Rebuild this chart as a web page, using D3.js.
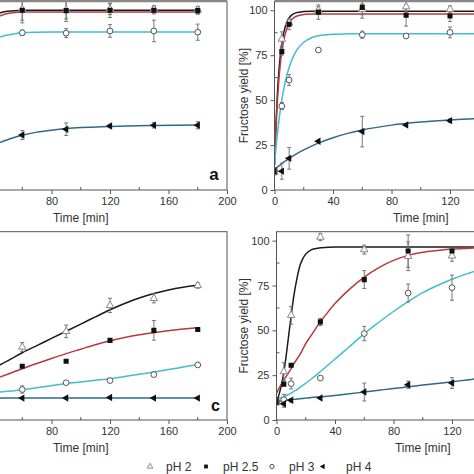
<!DOCTYPE html>
<html><head><meta charset="utf-8">
<script src="https://cdn.jsdelivr.net/npm/d3@7"></script>
<style>body{margin:0;background:#fff}svg{display:block}text{font-family:"Liberation Sans",Arial,sans-serif}</style>
</head><body><svg id="chart" width="474" height="474"></svg>
<script>
// ---------- DATA ----------
const seriesNames = ["pH 2", "pH 2.5", "pH 3", "pH 4"];
const xTicks = [0, 40, 80, 120, 160, 200];
const yTicks = [0, 25, 50, 75, 100];
const axisTitleX = "Time [min]";
const axisTitleY = "Fructose yield [%]";

// panel a
const timesA = [60, 90, 120, 150, 180];
const a_pH2 = [100.5, 100.2, 100.6, 100.6, 100.2];
const a_pH2_err = [6, 5, 3, 2, 2];
const a_pH25 = [100, 99.8, 100, 100, 99.8];
const a_pH25_err = [7, 6, 4, 2, 2];
const a_pH3 = [87.5, 87.3, 88.5, 88.5, 87.8];
const a_pH3_err = [1.5, 2.5, 3.5, 6, 4.5];
const a_pH4 = [30.6, 33.8, 35.6, 36, 36];
const a_pH4_err = [2.5, 3.5, 1, 1.5, 2];
const fitTimesA = [40, 45, 50, 55, 60, 70, 80, 90, 120, 150, 180];
const fitA_pH2 = [97.5, 98.6, 99.4, 99.8, 100, 100, 100, 100, 100, 100, 100];
const fitA_pH25 = [95.5, 97, 98.2, 98.8, 99, 99, 99, 99, 99, 99, 99];
const fitA_pH3 = [84, 85.2, 86.3, 87, 87.5, 87.8, 87.9, 87.9, 87.9, 87.9, 87.9];
const fitA_pH4 = [24.5, 26.5, 28, 29.4, 30.5, 32.2, 33.3, 34.2, 35.4, 35.9, 36.1];

// panel b
const timesB = [0, 5, 10, 30, 60, 90, 120];
const b_pH2 = [10, 84, 93, 100, 100.5, 102, 100.5];
const b_pH2_err = [0, 4, 2, 2, 3, 3, 2];
const b_pH25 = [11, 77, 92.2, 99, 101.6, 97.2, 96.8];
const b_pH25_err = [0, 2, 3, 4, 6, 6, 3];
const b_pH3 = [11, 46.7, 61.2, 77.9, 86.4, 85.7, 87.7];
const b_pH3_err = [0, 2, 3, 0, 2, 0, 3];
const b_pH4 = [10.4, 10.5, 17.6, 27.1, 32.5, 36.2, 38.6];
const b_pH4_err = [2, 4.5, 6, 0, 8.5, 0, 1];
const fitTimesB = [0,1,2,3,4,5,6,7,8,10,12,15,20,25,30,40,50,60,80,100,120,140,160,180];
const fitB_pH2 = [14,37,54,66,75,81.6,86.4,89.8,92.5,95.8,97.5,98.7,99.3,99.5,99.5,99.5,99.5,99.5,99.5,99.5,99.5,99.5,99.5,99.5];
const fitB_pH25 = [14,34.3,49.7,61.4,70.3,77,82,85.8,88.8,92.7,95,96.7,97.7,97.9,98,98,98,98,98,98,98,98,98,98];
const fitB_pH3 = [14,23.3,31.4,38.5,44.6,50,54.7,58.8,62.4,68.2,72.7,77.5,82.2,84.6,85.8,86.7,86.9,87,87,87,87,87,87,87];
const fitB_pH4 = [11.5,12.2,12.8,13.4,14,14.7,15.3,15.9,16.4,17.6,18.6,20.1,22.3,24.3,26.1,29.1,31.5,33.4,36.1,37.8,39,39.8,40.2,40.5];

// panel c
const timesC = [60, 90, 120, 150, 180];
const c_pH2 = [40.7, 49.4, 63.9, 67.8, 75];
const c_pH2_err = [2.5, 3.5, 4, 2.5, 1.5];
const c_pH25 = [30, 32.8, 44.4, 50, 50.5];
const c_pH25_err = [0, 0, 0, 5.5, 0];
const c_pH3 = [17, 20.8, 22, 25.3, 30.7];
const c_pH3_err = [2, 0, 0, 0.8, 0];
const c_pH4 = [12.2, 12.3, 12.6, 12.2, 12.2];
const c_pH4_err = [0, 0, 0, 0, 0];
const fitTimesC = [40, 50, 60, 70, 80, 90, 100, 110, 120, 130, 140, 150, 160, 170, 180];
const fitC_pH2 = [28.8, 33, 37.5, 41.5, 45.5, 49.5, 53.5, 57.5, 61.5, 65, 68, 70.5, 72.5, 74, 75.1];
const fitC_pH25 = [22.5, 25.5, 28.6, 31.5, 34.3, 37, 39.5, 42, 44.2, 46, 47.5, 48.7, 49.8, 50.7, 51.5];
const fitC_pH3 = [15.2, 16, 16.9, 18, 19.1, 20.3, 21.2, 22.1, 23, 24.2, 25.5, 26.8, 28.1, 29.5, 30.9];
const fitC_pH4 = [12.3, 12.3, 12.3, 12.3, 12.3, 12.3, 12.3, 12.3, 12.3, 12.3, 12.3, 12.3, 12.3, 12.3, 12.3];

// panel d
const timesD = [0, 5, 10, 30, 60, 90, 120];
const d_pH2 = [10, 27, 58.4, 102, 95, 91.3, 91.5];
const d_pH2_err = [0, 5, 5, 2, 2.5, 8, 3];
const d_pH25 = [10, 20, 30.5, 54.7, 78.3, 94.2, 94.2];
const d_pH25_err = [0, 1, 1, 2, 5, 9, 1];
const d_pH3 = [10, 11.3, 20.3, 23.4, 48.2, 70.8, 73.8];
const d_pH3_err = [0, 3, 3, 0, 4, 5, 7];
const d_pH4 = [10, 9.1, 11, 12.3, 15.6, 19.7, 20.6];
const d_pH4_err = [0, 2, 1, 0, 5, 2, 3];
const fitTimesD = [0,2,4,6,8,10,12,14,16,18,20,24,28,35,40,50,60,70,80,90,100,110,120,130,140,160,180];
const fitD_pH2 = [10,15,22,32,45,58,70,79,86,90,92.5,95,95.8,96.3,96.5,96.5,96.5,96.5,96.5,96.5,96.5,96.5,96.5,96.5,96.5,96.5,96.5];
const fitD_pH25 = [15,18,21,23.5,26,28.6,31.5,34,36.5,39.5,42.6,47.5,52.5,60,64.9,73,79.7,85,89,91.8,93.5,94.5,95.3,95.7,96,96.3,96.5];
const fitD_pH3 = [11,11.8,12.6,13.4,14.2,15,16,17,18.2,19.3,20.5,23,25.6,30.5,34,41,48.2,54.5,60.5,66,71,75,78.5,81.5,84,88,90.5];
const fitD_pH4 = [10.5,10.6,10.8,11,11.2,11.4,11.5,11.7,11.9,12,12.2,12.5,12.8,13.3,13.7,14.6,15.6,16.6,17.6,18.5,19.5,20.4,21.3,22.3,23.3,25,26.5];

// ---------- STYLE ----------
const lineColors = ["#1a1a1a", "#b8393c", "#3dbfcf", "#2d6a86"];
const markerKind = ["tri", "square", "circle", "ltri"];
const W = 474;

const panels = [
  {label: "a", xr: [-65.5, 227], yr: [190, 1.3], times: timesA,
   vals: [a_pH2, a_pH25, a_pH3, a_pH4], errs: [a_pH2_err, a_pH25_err, a_pH3_err, a_pH4_err],
   fitT: fitTimesA, fits: [fitA_pH2, fitA_pH25, fitA_pH3, fitA_pH4],
   titleY: 222, letter: [214, 180, 17]},
  {label: "b", xr: [274.5, 567], yr: [190, 1.3], times: timesB,
   vals: [b_pH2, b_pH25, b_pH3, b_pH4], errs: [b_pH2_err, b_pH25_err, b_pH3_err, b_pH4_err],
   fitT: fitTimesB, fits: [fitB_pH2, fitB_pH25, fitB_pH3, fitB_pH4],
   titleY: 222, ytitleX: 248, letter: [554, 180, 17]},
  {label: "c", xr: [-65.5, 227], yr: [420, 231.7], times: timesC,
   vals: [c_pH2, c_pH25, c_pH3, c_pH4], errs: [c_pH2_err, c_pH25_err, c_pH3_err, c_pH4_err],
   fitT: fitTimesC, fits: [fitC_pH2, fitC_pH25, fitC_pH3, fitC_pH4],
   titleY: 452, letter: [215.5, 411, 16]},
  {label: "d", xr: [276.5, 569], yr: [420, 231.7], times: timesD,
   vals: [d_pH2, d_pH25, d_pH3, d_pH4], errs: [d_pH2_err, d_pH25_err, d_pH3_err, d_pH4_err],
   fitT: fitTimesD, fits: [fitD_pH2, fitD_pH25, fitD_pH3, fitD_pH4],
   titleY: 452, ytitleX: 248, letter: [556, 411, 16]}
];

const svg = d3.select("#chart");
const defs = svg.append("defs");

function drawMarker(g, kind, x, y, scale) {
  const s = scale || 1;
  if (kind === "tri") {
    g.append("path").attr("d", d3.symbol(d3.symbolTriangle, 24 * s * s)())
      .attr("transform", `translate(${x},${y})`)
      .attr("fill", "#fff").attr("stroke", "#888").attr("stroke-width", 1);
  } else if (kind === "square") {
    g.append("path").attr("d", d3.symbol(d3.symbolSquare, 26 * s * s)())
      .attr("transform", `translate(${x},${y})`).attr("fill", "#111");
  } else if (kind === "circle") {
    g.append("path").attr("d", d3.symbol(d3.symbolCircle, 26 * s * s)())
      .attr("transform", `translate(${x},${y})`)
      .attr("fill", "#fff").attr("stroke", "#555").attr("stroke-width", 1);
  } else {
    g.append("path").attr("d", d3.symbol(d3.symbolTriangle, 24 * s * s)())
      .attr("transform", `translate(${x},${y}) rotate(-90)`).attr("fill", "#111");
  }
}

panels.forEach((p, pi) => {
  const x = d3.scaleLinear().domain([0, 200]).range(p.xr);
  const y = d3.scaleLinear().domain([0, 105]).range(p.yr);
  const g = svg.append("g");
  const clipId = "clip" + pi;
  defs.append("clipPath").attr("id", clipId).append("rect")
    .attr("x", p.xr[0]).attr("y", p.yr[1]).attr("width", p.xr[1] - p.xr[0]).attr("height", p.yr[0] - p.yr[1]);

  const onScreen = v => v > -2 && v < W + 2;

  const xa = g.append("g").attr("transform", `translate(0,${p.yr[0]})`)
    .call(d3.axisBottom(x).tickValues(xTicks.filter(t => onScreen(x(t))))
      .tickSize(4).tickSizeOuter(0).tickPadding(3));
  xa.select(".domain").remove();
  xa.selectAll("line").attr("stroke", "#555");
  xa.selectAll("text").attr("font-size", 11).attr("fill", "#333")
    .attr("font-family", '"Liberation Sans",Arial,sans-serif');
  g.selectAll(null).data([20, 60, 100, 140, 180].filter(t => onScreen(x(t)))).enter().append("line")
    .attr("x1", d => x(d)).attr("x2", d => x(d)).attr("y1", p.yr[0]).attr("y2", p.yr[0] - 3)
    .attr("stroke", "#555");

  if (onScreen(p.xr[0])) {
    const ya = g.append("g").attr("transform", `translate(${p.xr[0]},0)`)
      .call(d3.axisLeft(y).tickValues(yTicks).tickSize(4).tickSizeOuter(0).tickPadding(3));
    ya.select(".domain").remove();
    ya.selectAll("line").attr("stroke", "#555");
    ya.selectAll("text").attr("font-size", 11).attr("fill", "#333")
      .attr("font-family", '"Liberation Sans",Arial,sans-serif');
    g.selectAll(null).data([12.5, 37.5, 62.5, 87.5]).enter().append("line")
      .attr("x1", p.xr[0]).attr("x2", p.xr[0] + 3).attr("y1", d => y(d)).attr("y2", d => y(d))
      .attr("stroke", "#555");
  }

  const plot = g.append("g").attr("clip-path", `url(#${clipId})`);
  p.fits.forEach((f, si) => {
    const pts = p.fitT.map((t, i) => [t, f[i]]);
    plot.append("path").datum(pts)
      .attr("d", d3.line().x(d => x(d[0])).y(d => y(d[1])).curve(d3.curveMonotoneX))
      .attr("fill", "none").attr("stroke", lineColors[si]).attr("stroke-width", 1.5);
  });
  p.vals.forEach((vals, si) => {
    vals.forEach((v, i) => {
      const e = p.errs[si][i];
      if (!e) return;
      const cx = x(p.times[i]);
      const eg = plot.append("g").attr("stroke", "#777").attr("stroke-width", 1);
      eg.append("line").attr("x1", cx).attr("x2", cx).attr("y1", y(v - e)).attr("y2", y(v + e));
      eg.append("line").attr("x1", cx - 2).attr("x2", cx + 2).attr("y1", y(v - e)).attr("y2", y(v - e));
      eg.append("line").attr("x1", cx - 2).attr("x2", cx + 2).attr("y1", y(v + e)).attr("y2", y(v + e));
    });
  });
  p.vals.forEach((vals, si) => {
    vals.forEach((v, i) => drawMarker(plot, markerKind[si], x(p.times[i]), y(v)));
  });

  g.append("rect").attr("x", p.xr[0]).attr("y", p.yr[1])
    .attr("width", p.xr[1] - p.xr[0]).attr("height", p.yr[0] - p.yr[1])
    .attr("fill", "none").attr("stroke", "#555").attr("stroke-width", 1);
  if (p.yr[1] < 5) {
    g.append("line").attr("x1", p.xr[0]).attr("x2", p.xr[1]).attr("y1", 1).attr("y2", 1)
      .attr("stroke", "#888").attr("stroke-width", 2.5);
  }

  g.append("text").attr("x", (p.xr[0] + p.xr[1]) / 2).attr("y", p.titleY)
    .attr("text-anchor", "middle").attr("font-size", 12).attr("fill", "#333").text(axisTitleX);
  if (p.ytitleX) {
    g.append("text").attr("transform", `translate(${p.ytitleX},${(p.yr[0] + p.yr[1]) / 2}) rotate(-90)`)
      .attr("text-anchor", "middle").attr("font-size", 12).attr("fill", "#333").text(axisTitleY);
  }
  if (onScreen(p.letter[0])) {
    g.append("text").attr("x", p.letter[0]).attr("y", p.letter[1]).attr("text-anchor", "middle")
      .attr("font-size", p.letter[2]).attr("font-weight", "bold").attr("fill", "#111").text(p.label);
  }
});

const legendX = [150, 206, 272, 323];
const legendTextX = [166, 223, 289, 346];
const lg = svg.append("g");
seriesNames.forEach((name, i) => {
  drawMarker(lg, markerKind[i], legendX[i], 466.5, 0.75);
  lg.append("text").attr("x", legendTextX[i]).attr("y", 471).attr("font-size", 12)
    .attr("fill", "#333").text(name);
});
</script></body></html>
